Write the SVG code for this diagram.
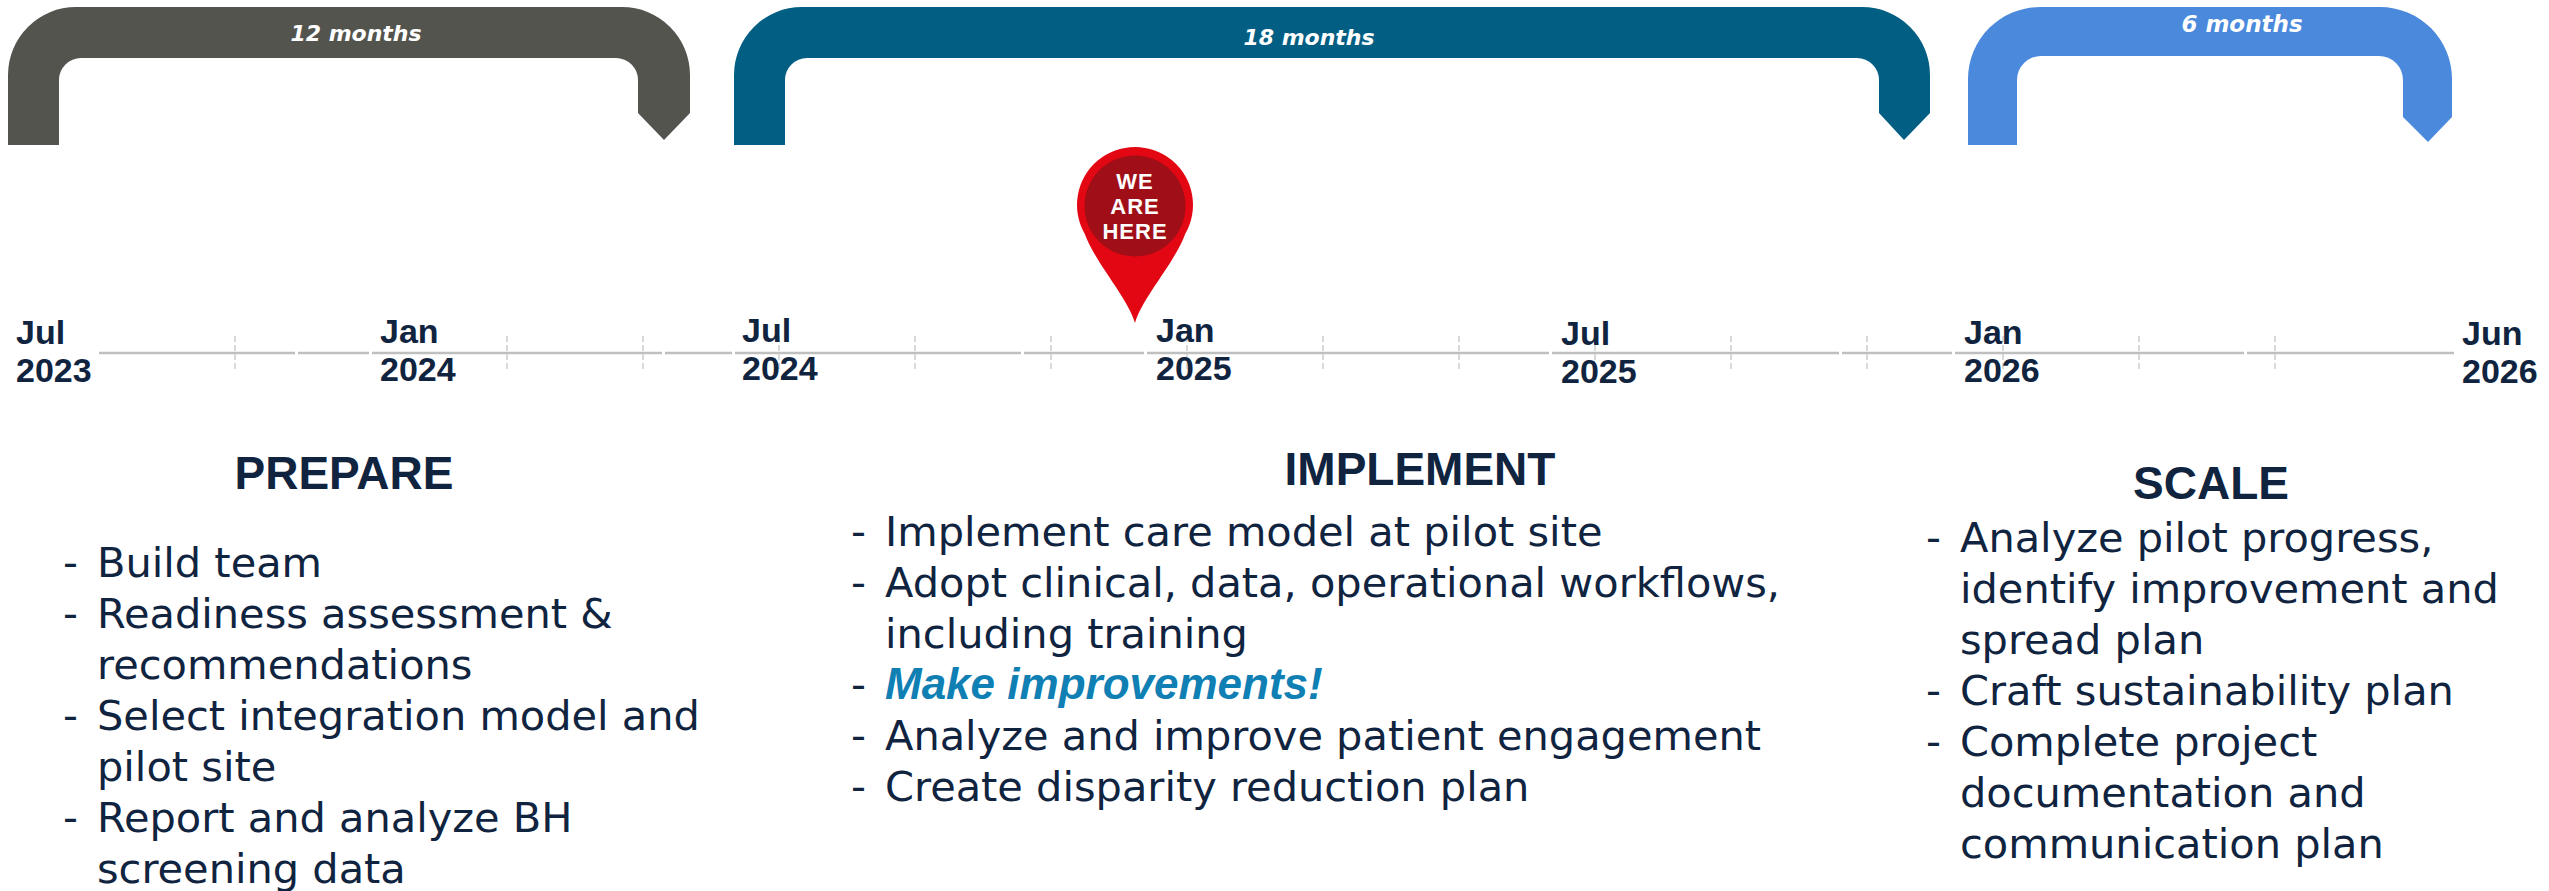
<svg xmlns="http://www.w3.org/2000/svg" width="2549" height="891" viewBox="0 0 2549 891">
<style>
.dur{font-family:"DejaVu Sans",Verdana,sans-serif;font-weight:bold;font-style:italic;fill:#ffffff;text-anchor:middle}
.date{font-family:"Liberation Sans",Arial,sans-serif;font-weight:bold;font-size:34px;fill:#10243f}
.head{font-family:"Liberation Sans",Arial,sans-serif;font-weight:bold;font-size:46px;fill:#10243f;text-anchor:middle}
.body{font-family:"DejaVu Sans",Verdana,sans-serif;font-size:41.5px;fill:#10243f}
.hl{font-family:"Liberation Sans",Arial,sans-serif;font-weight:bold;font-style:italic;font-size:44px;fill:#0f7fb4}
.pin{font-family:"Liberation Sans",Arial,sans-serif;font-weight:bold;font-size:22px;letter-spacing:1px;fill:#ffffff;text-anchor:middle}
.axis{stroke:#bfbfbf;stroke-width:2.5;fill:none}
.tick{stroke:#d9d9d9;stroke-width:2;stroke-dasharray:6 3;fill:none}
</style>

<rect x="0" y="0" width="2549" height="891" fill="#ffffff"/>

<g id="bracket-prepare">
<path fill="#54544e" d="M8 145 L8 75 A68 68 0 0 1 76 7 L622 7 A68 68 0 0 1 690 75 L690 113 L664 140 L638 113 L638 80 A22 22 0 0 0 616 58 L81 58 A22 22 0 0 0 59 80 L59 145 Z"/>
<text class="dur" x="356" y="41" font-size="22">12 months</text>
</g>

<g id="bracket-implement">
<path fill="#035e83" d="M734 145 L734 75 A68 68 0 0 1 802 7 L1862 7 A68 68 0 0 1 1930 75 L1930 113 L1904 140 L1879 113 L1879 80 A22 22 0 0 0 1857 58 L807 58 A22 22 0 0 0 785 80 L785 145 Z"/>
<text class="dur" x="1309" y="45" font-size="22">18 months</text>
</g>

<g id="bracket-scale">
<path fill="#4a89dc" d="M1968 145 L1968 79 A72 72 0 0 1 2040 7 L2380 7 A72 72 0 0 1 2452 79 L2452 117 L2428 142 L2403 117 L2403 80 A24 24 0 0 0 2379 56 L2041 56 A24 24 0 0 0 2017 80 L2017 145 Z"/>
<text class="dur" x="2242" y="32" font-size="23">6 months</text>
</g>

<g id="connectors">
<g id="timeline-axis">
<line class="axis" x1="99" y1="353" x2="295" y2="353"/>
<line class="axis" x1="298" y1="353" x2="369" y2="353"/>
<line class="axis" x1="372" y1="353" x2="662" y2="353"/>
<line class="axis" x1="665" y1="353" x2="732" y2="353"/>
<line class="axis" x1="735" y1="353" x2="1021" y2="353"/>
<line class="axis" x1="1024" y1="353" x2="1144" y2="353"/>
<line class="axis" x1="1147" y1="353" x2="1549" y2="353"/>
<line class="axis" x1="1552" y1="353" x2="1839" y2="353"/>
<line class="axis" x1="1842" y1="353" x2="1952" y2="353"/>
<line class="axis" x1="1955" y1="353" x2="2244" y2="353"/>
<line class="axis" x1="2247" y1="353" x2="2454" y2="353"/>
</g>
<g id="timeline-ticks">
<line class="tick" x1="235" y1="336" x2="235" y2="370"/>
<line class="tick" x1="507" y1="336" x2="507" y2="370"/>
<line class="tick" x1="643" y1="336" x2="643" y2="370"/>
<line class="tick" x1="779" y1="336" x2="779" y2="370"/>
<line class="tick" x1="915" y1="336" x2="915" y2="370"/>
<line class="tick" x1="1051" y1="336" x2="1051" y2="370"/>
<line class="tick" x1="1187" y1="336" x2="1187" y2="370"/>
<line class="tick" x1="1323" y1="336" x2="1323" y2="370"/>
<line class="tick" x1="1459" y1="336" x2="1459" y2="370"/>
<line class="tick" x1="1595" y1="336" x2="1595" y2="370"/>
<line class="tick" x1="1731" y1="336" x2="1731" y2="370"/>
<line class="tick" x1="1867" y1="336" x2="1867" y2="370"/>
<line class="tick" x1="2003" y1="336" x2="2003" y2="370"/>
<line class="tick" x1="2139" y1="336" x2="2139" y2="370"/>
<line class="tick" x1="2275" y1="336" x2="2275" y2="370"/>
</g>
</g>

<g id="date-labels">
<text class="date" x="16" y="344">Jul</text><text class="date" x="16" y="382">2023</text>
<text class="date" x="380" y="343">Jan</text><text class="date" x="380" y="381">2024</text>
<text class="date" x="742" y="342">Jul</text><text class="date" x="742" y="380">2024</text>
<text class="date" x="1156" y="342">Jan</text><text class="date" x="1156" y="380">2025</text>
<text class="date" x="1561" y="345">Jul</text><text class="date" x="1561" y="383">2025</text>
<text class="date" x="1964" y="344">Jan</text><text class="date" x="1964" y="382">2026</text>
<text class="date" x="2462" y="345">Jun</text><text class="date" x="2462" y="383">2026</text>
</g>

<g id="we-are-here">
<path fill="#e30613" d="M1135 323 C1128 298 1096 264 1084.8 234 A58 58 0 1 1 1185.2 234 C1174 264 1142 298 1135 323 Z"/>
<circle cx="1135" cy="206" r="50.5" fill="#a00f18"/>
<text class="pin" x="1135" y="189">WE</text>
<text class="pin" x="1135" y="214">ARE</text>
<text class="pin" x="1135" y="239">HERE</text>
</g>

<g id="phase-prepare">
<text class="head" x="344" y="489">PREPARE</text>
<text class="body" x="63" y="577">-</text><text class="body" x="97" y="577">Build team</text>
<text class="body" x="63" y="628">-</text><text class="body" x="97" y="628">Readiness assessment &amp;</text>
<text class="body" x="97" y="679">recommendations</text>
<text class="body" x="63" y="730">-</text><text class="body" x="97" y="730">Select integration model and</text>
<text class="body" x="97" y="781">pilot site</text>
<text class="body" x="63" y="832">-</text><text class="body" x="97" y="832">Report and analyze BH</text>
<text class="body" x="97" y="883">screening data</text>
</g>

<g id="phase-implement">
<text class="head" x="1420" y="485" font-size="48">IMPLEMENT</text>
<text class="body" x="851" y="546">-</text><text class="body" x="885" y="546">Implement care model at pilot site</text>
<text class="body" x="851" y="597">-</text><text class="body" x="885" y="597">Adopt clinical, data, operational workflows,</text>
<text class="body" x="885" y="648">including training</text>
<text class="body" x="851" y="699" fill="#0f7fb4">-</text><text class="hl" x="885" y="699">Make improvements!</text>
<text class="body" x="851" y="750">-</text><text class="body" x="885" y="750">Analyze and improve patient engagement</text>
<text class="body" x="851" y="801">-</text><text class="body" x="885" y="801">Create disparity reduction plan</text>
</g>

<g id="phase-scale">
<text class="head" x="2211" y="499">SCALE</text>
<text class="body" x="1926" y="552">-</text><text class="body" x="1960" y="552">Analyze pilot progress,</text>
<text class="body" x="1960" y="603">identify improvement and</text>
<text class="body" x="1960" y="654">spread plan</text>
<text class="body" x="1926" y="705">-</text><text class="body" x="1960" y="705">Craft sustainability plan</text>
<text class="body" x="1926" y="756">-</text><text class="body" x="1960" y="756">Complete project</text>
<text class="body" x="1960" y="807">documentation and</text>
<text class="body" x="1960" y="858">communication plan</text>
</g>
</svg>
